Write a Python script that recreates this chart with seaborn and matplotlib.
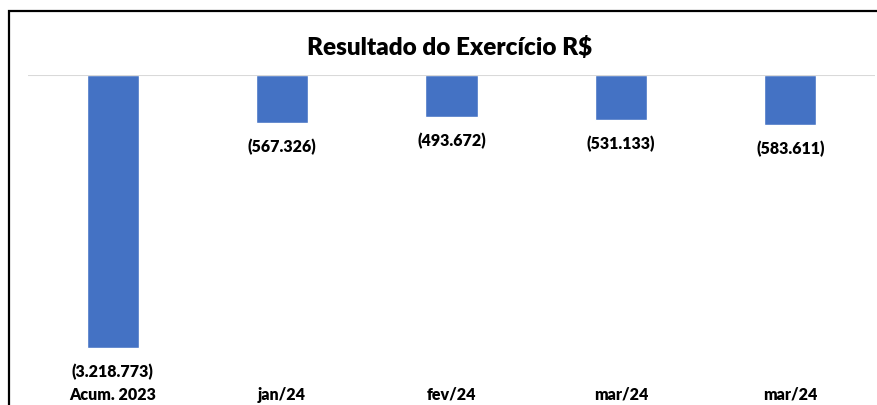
import matplotlib
matplotlib.use("Agg")
import matplotlib.pyplot as plt
import seaborn as sns
import pandas as pd
from matplotlib.patches import Rectangle

categories = ["Acum. 2023", "jan/24", "fev/24", "mar/24", "mar/24"]
values = [-3218773, -567326, -493672, -531133, -583611]
title = "Resultado do Exercício R$"

sns.set_theme(style="white")
plt.rcParams["font.family"] = ["Lato", "DejaVu Sans"]

W, H = 877, 405
fig = plt.figure(figsize=(W / 100, H / 100), dpi=100)
fig.patch.set_facecolor("white")

bottom_px = 381
ax = fig.add_axes([28 / W, 1 - bottom_px / H, (875 - 28) / W, (bottom_px - 75) / H])
df = pd.DataFrame({"cat": range(len(categories)), "val": values})
sns.barplot(data=df, x="cat", y="val", color="#4472C4", width=0.307,
            saturation=1, ax=ax, order=range(len(categories)))
ax.set_xlim(-0.5, len(categories) - 0.5)
ax.set_ylim(-(bottom_px - 75) / 84.82 * 1e6, 0)
ax.axhline(0, color="#D9D9D9", lw=1.5, zorder=3)
for s in ax.spines.values():
    s.set_visible(False)
ax.set_yticks([])
ax.set_xlabel("")
ax.set_ylabel("")
ax.set_xticks(range(len(categories)))
ax.set_xticklabels(categories, fontsize=11.5, fontweight="heavy", color="#000000")
ax.tick_params(axis="x", length=0, pad=4)

for i, v in enumerate(values):
    lab = "(" + f"{abs(v):,}".replace(",", ".") + ")"
    ax.annotate(lab, (i, v), xytext=(0, -17.5), textcoords="offset points",
                ha="center", va="center", fontsize=11.5, fontweight="heavy",
                color="#000000")

fig.text(450 / W, 1 - 47 / H, title, ha="center", va="center",
         fontsize=17.5, fontweight="heavy", color="#000000")

fig.add_artist(Rectangle((8.5 / W, -0.1), 1.2, 1 - 11 / H + 0.1,
                         transform=fig.transFigure, fill=False,
                         edgecolor="black", lw=1.6))

fig.savefig("out.png", dpi=100)
